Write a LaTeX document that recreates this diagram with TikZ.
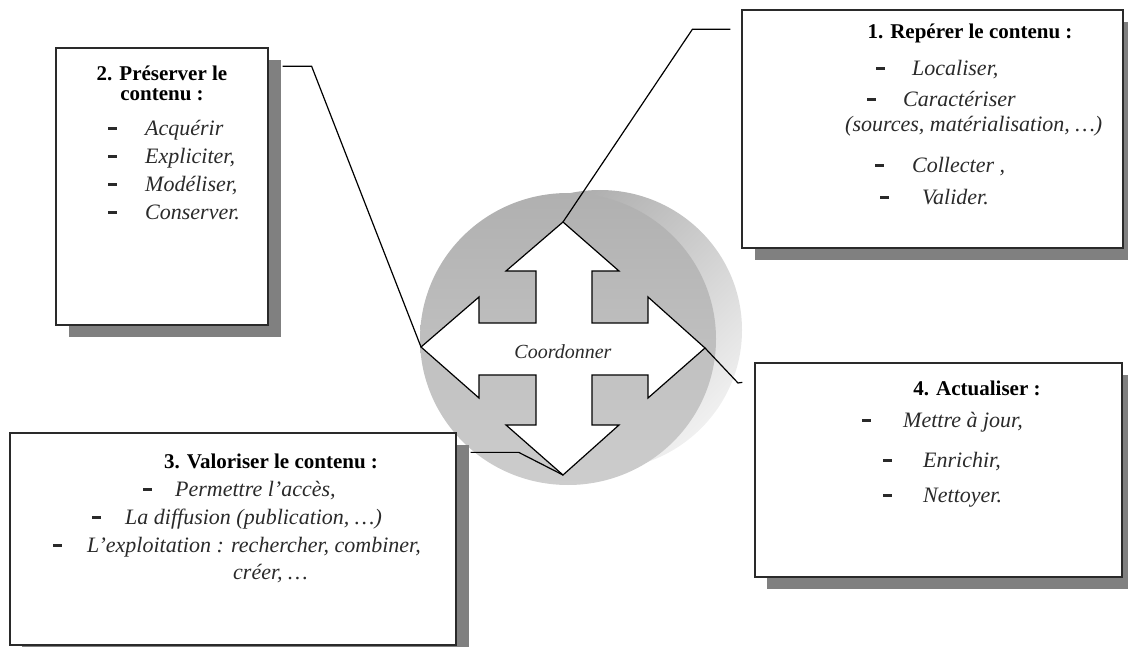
\documentclass[tikz,border=0pt]{standalone}
\usepackage{fontspec}
\setmainfont{Liberation Serif}
\usetikzlibrary{shadows}
\definecolor{shadowgray}{HTML}{808080}
\definecolor{boxline}{HTML}{2A2A2A}
\definecolor{itemtext}{HTML}{2A2A2A}
\definecolor{discA}{HTML}{B0B0B0}
\definecolor{discB}{HTML}{CDCDCD}
\definecolor{sideA}{HTML}{A6A6A6}
\definecolor{sideB}{HTML}{F0F0F0}
\newcommand\dsh{\rule[5.5pt]{9pt}{2.6pt}}
\begin{document}
\begin{tikzpicture}[x=1pt,y=-1pt,
  box/.style={draw=boxline, line width=1.3pt, fill=white, inner sep=0pt,
    drop shadow={opacity=1, fill=shadowgray, shadow xshift=13pt, shadow yshift=-12pt}},
  head/.style={inner sep=0pt, font=\fontsize{21}{25}\selectfont\bfseries, text=black},
  it/.style={inner sep=0pt, anchor=mid west, font=\fontsize{22}{26}\selectfont\itshape, text=itemtext},
  conn/.style={draw=black, line width=1.2pt, line join=miter},
]
\useasboundingbox (0,0) rectangle (1128,647);

% disc (cylinder seen at an angle)
\shade[top color=sideA, bottom color=sideB, shading angle=45] (600,330) ellipse [x radius=142pt, y radius=140pt];
\shade[top color=discA, bottom color=discB] (568,339) ellipse [x radius=148pt, y radius=146pt];

% arrow tips
\coordinate (tipT) at (563,222);
\coordinate (tipB) at (563,475);
\coordinate (tipL) at (421,347);
\coordinate (tipR) at (705,348);

% four-way arrow
\draw[fill=white, line width=1.2pt, line join=miter]
  (tipT) -- (619,271) -- (592,271) -- (592,323) -- (648,323) -- (648,297)
  -- (tipR) -- (648,398) -- (648,375) -- (592,375) -- (592,425) -- (619,425)
  -- (tipB) -- (506,425) -- (536,425) -- (536,375) -- (479,375) -- (479,398)
  -- (tipL) -- (479,297) -- (479,323) -- (536,323) -- (536,271) -- (506,271) -- cycle;
\node[inner sep=0pt, font=\fontsize{20}{24}\selectfont\itshape, text=itemtext] (coord) at (563,352) {Coordonner};

% boxes
\node[box, minimum width=212pt, minimum height=277pt] (b2) at (162,186.5) {};
\node[box, minimum width=381pt, minimum height=238pt] (b1) at (932.5,129) {};
\node[box, minimum width=446pt, minimum height=212pt, drop shadow={opacity=1, fill=shadowgray, shadow xshift=12pt, shadow yshift=-14pt}] (b3) at (233,539) {};
\node[box, minimum width=367pt, minimum height=214pt, drop shadow={opacity=1, fill=shadowgray, shadow xshift=12pt, shadow yshift=-12pt}] (b4) at (938.5,470) {};

% connectors
\draw[conn] ([shift={(14,19)}]b2.north east) -- ++(29,0) -- (tipL);
\draw[conn] ([shift={(-11,20)}]b1.north west) -- ++(-38,0) -- (tipT);
\draw[conn] ([shift={(14,20)}]b3.north east) -- ++(48,0) -- (tipB);
\draw[conn] (tipR) -- ++(33,35) -- ([shift={(-12,20)}]b4.north west);

% box 2 text
\node[head] (b2h1) at (162,73) {2. Préserver le};
\node[head] (b2h2) at (162,95) {contenu :};
\node[it] (b2a) at (108,133) {\dsh\hspace{28pt}Acquérir};
\node[it] (b2b) at (108,161) {\dsh\hspace{28pt}Expliciter,};
\node[it] (b2c) at (108,189) {\dsh\hspace{28pt}Modéliser,};
\node[it] (b2d) at (108,217) {\dsh\hspace{28pt}Conserver.};

% box 1 text
\node[head] (b1h) at (970,33) {1. Repérer le contenu :};
\node[it] (b1a) at (876,73) {\dsh\hspace{27pt}Localiser,};
\node[it] (b1b) at (867,104) {\dsh\hspace{27pt}Caractériser};
\node[it] (b1c) at (845,129) {(sources, matérialisation, …)};
\node[it] (b1d) at (875,170) {\dsh\hspace{28pt}Collecter ,};
\node[it] (b1e) at (880,202) {\dsh\hspace{33pt}Valider.};

% box 3 text
\node[head] (b3h) at (271,461) {3. Valoriser le contenu :};
\node[it] (b3a) at (143,494) {\dsh\hspace{23pt}Permettre l’accès,};
\node[it] (b3b) at (92,522) {\dsh\hspace{24pt}La diffusion (publication, …)};
\node[it] (b3c) at (53,550) {\dsh\hspace{25pt}L’exploitation : rechercher, combiner,};
\node[it] (b3d) at (233,577) {créer, …};

% box 4 text
\node[head] (b4h) at (977,388) {4. Actualiser :};
\node[it] (b4a) at (862,425) {\dsh\hspace{32pt}Mettre à jour,};
\node[it] (b4b) at (883,465) {\dsh\hspace{31pt}Enrichir,};
\node[it] (b4c) at (883,500) {\dsh\hspace{31pt}Nettoyer.};
\end{tikzpicture}
\end{document}
